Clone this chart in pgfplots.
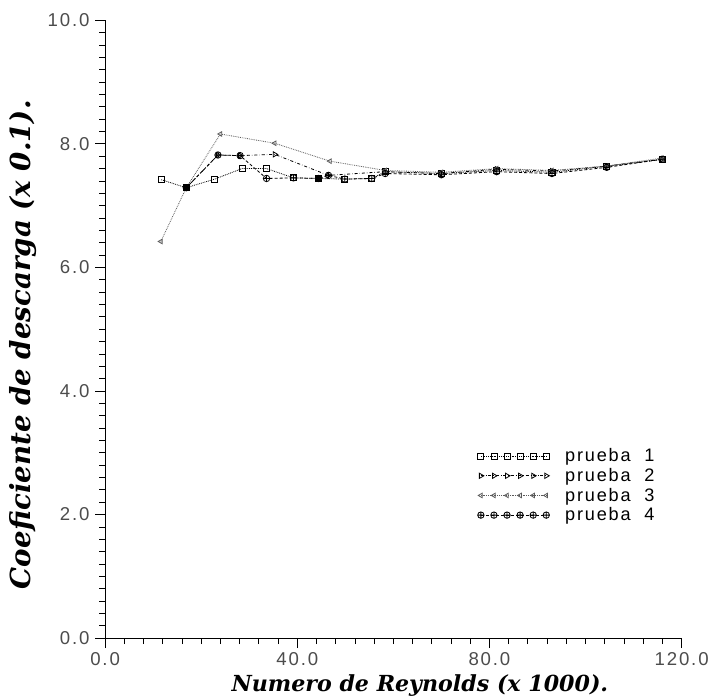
\documentclass[border=0pt]{standalone}
\usepackage{fontspec}
\setmainfont{Liberation Serif}
\newfontfamily\sansf[LetterSpace=10]{Liberation Sans}
\newfontfamily\labf{DejaVu Serif}
\usepackage{pgfplots}
\pgfplotsset{compat=1.18}
\begin{document}
\begin{tikzpicture}
\begin{axis}[
 scale only axis, width=573pt, height=614pt,
 xmin=0, xmax=120, ymin=0, ymax=10,
 axis x line=bottom, axis y line=left,
 axis line style={-, line width=1pt, black},
 xtick={0,40,80,120}, ytick={0,2,4,6,8,10},
 minor x tick num=9, minor y tick num=9,
 tick align=outside,
 major tick length=10pt, minor tick length=6pt,
 every tick/.style={line width=0.8pt, black},
 ticklabel style={font=\sansf\fontsize{18.5}{19}\selectfont, black!70},
 xticklabel style={yshift=-1pt},
 yticklabel style={xshift=-2pt},
 title={\phantom{x}},
 title style={at={(axis description cs:0.5,1)}, anchor=south, inner sep=0pt, minimum height=14pt, yshift=0pt},
 xlabel={\labf\bfseries\itshape Numero de Reynolds (x 1000).},
 ylabel={\labf\bfseries\itshape Coeficiente de descarga (x 0.1).},
 xlabel style={font=\fontsize{22}{22}\selectfont, at={(axis description cs:0.546,-0.076)}, anchor=center},
 ylabel style={font=\fontsize{27.5}{27.5}\selectfont, at={(axis description cs:-0.143,0.475)}, anchor=center, inner ysep=9pt},
 legend style={at={(axis cs:77.5,3.1)}, anchor=north west, draw=none, fill=none,
   font=\sansf\fontsize{18}{21}\selectfont, row sep=1pt, inner sep=0pt},
 legend cell align=left,
 legend image code/.code={\draw[mark repeat=1,#1] plot coordinates {(0pt,0pt)(13pt,0pt)(26pt,0pt)(39pt,0pt)(52pt,0pt)(65pt,0pt)};},
 /pgf/number format/fixed, /pgf/number format/fixed zerofill,
 /pgf/number format/precision=1, /pgf/number format/assume math mode=true,
]
\addplot[black, densely dotted, line width=0.8pt, mark=square, mark size=3pt, mark options={solid}] coordinates {
(11.7,7.42) (16.9,7.29) (22.8,7.43) (28.5,7.60) (33.6,7.60) (39.2,7.45) (44.4,7.44) (49.9,7.43) (55.5,7.44) (58.3,7.55) (70,7.52) (81.5,7.57) (93,7.54) (104.4,7.64) (115.9,7.75)};
\addlegendentry{\ \ prueba\ \ 1}
\addplot[black, dashdotted, line width=0.8pt, mark=triangle, mark size=3pt, mark options={solid, rotate=-90}] coordinates {
(16.9,7.29) (23.5,7.82) (28.1,7.81) (35.3,7.83) (46.5,7.49) (58.3,7.55) (70,7.52) (81.5,7.59) (93,7.56) (104.4,7.64) (115.9,7.75)};
\addlegendentry{\ \ prueba\ \ 2}
\addplot[black!65, densely dotted, line width=0.8pt, mark=triangle, mark size=2.6pt, mark options={solid, rotate=90}] coordinates {
(11.6,6.42) (16.9,7.29) (24,8.16) (35.3,8.01) (46.8,7.72) (58.3,7.57) (70,7.54) (81.5,7.60) (93,7.57) (104.4,7.64) (115.9,7.77)};
\addlegendentry{\ \ prueba\ \ 3}
\addplot[black, densely dashed, line width=0.8pt, mark=oplus, mark size=3.2pt, mark options={solid}] coordinates {
(16.9,7.29) (23.5,7.82) (28.1,7.81) (33.6,7.44) (39.2,7.45) (44.4,7.44) (46.5,7.49) (49.9,7.43) (55.5,7.44) (58.3,7.52) (70,7.50) (81.5,7.55) (93,7.52) (104.4,7.62) (115.9,7.75)};
\addlegendentry{\ \ prueba\ \ 4}
\addplot[only marks, black, mark=*, mark size=3pt, forget plot] coordinates {(16.9,7.29) (44.4,7.44)};
\end{axis}
\end{tikzpicture}
\end{document}
